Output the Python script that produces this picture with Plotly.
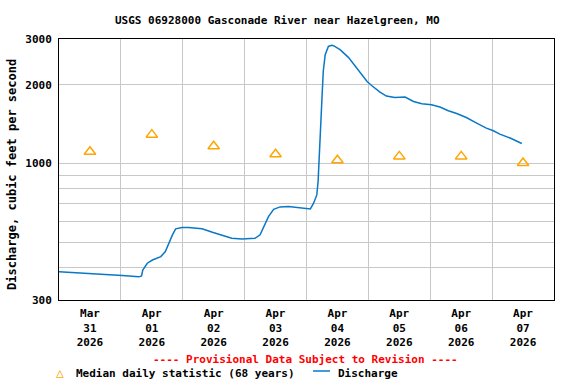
import plotly.graph_objects as go

# ---- data ----
median_dates = ["2026-03-31 12:00", "2026-04-01 12:00", "2026-04-02 12:00", "2026-04-03 12:00",
                "2026-04-04 12:00", "2026-04-05 12:00", "2026-04-06 12:00", "2026-04-07 12:00"]
median_cfs = [1110, 1290, 1165, 1085, 1030, 1065, 1065, 1005]

q_times = [
    "2026-03-31 00:00", "2026-03-31 06:30", "2026-03-31 11:30", "2026-03-31 18:00",
    "2026-04-01 00:30", "2026-04-01 07:00", "2026-04-01 08:00", "2026-04-01 08:30",
    "2026-04-01 10:15", "2026-04-01 12:15", "2026-04-01 15:30", "2026-04-01 17:15",
    "2026-04-01 18:30", "2026-04-01 20:00", "2026-04-01 21:15", "2026-04-01 23:45",
    "2026-04-02 02:15", "2026-04-02 07:30", "2026-04-02 11:30", "2026-04-02 15:15",
    "2026-04-02 19:00", "2026-04-02 23:00", "2026-04-03 04:00", "2026-04-03 06:00",
    "2026-04-03 07:30", "2026-04-03 09:15", "2026-04-03 11:15", "2026-04-03 13:45",
    "2026-04-03 17:00", "2026-04-03 21:00", "2026-04-04 01:30", "2026-04-04 02:45",
    "2026-04-04 04:00", "2026-04-04 04:30", "2026-04-04 05:00", "2026-04-04 05:30",
    "2026-04-04 06:00", "2026-04-04 06:30", "2026-04-04 07:15", "2026-04-04 08:30",
    "2026-04-04 09:45", "2026-04-04 10:30", "2026-04-04 13:00", "2026-04-04 16:15",
    "2026-04-04 19:00", "2026-04-04 21:30", "2026-04-04 23:30", "2026-04-05 01:15",
    "2026-04-05 04:30", "2026-04-05 07:00", "2026-04-05 10:15", "2026-04-05 14:15",
    "2026-04-05 17:30", "2026-04-05 20:45", "2026-04-06 00:30", "2026-04-06 03:45",
    "2026-04-06 07:00", "2026-04-06 10:15", "2026-04-06 14:00", "2026-04-06 18:00",
    "2026-04-06 21:45", "2026-04-07 00:30", "2026-04-07 03:00", "2026-04-07 07:00",
    "2026-04-07 11:30",
]
q_cfs = [
    385, 382, 378, 376,
    372, 368, 371, 391,
    415, 427, 440, 460,
    495, 533, 562, 569,
    569, 562, 545, 530,
    517, 514, 517, 533,
    573, 626, 668, 682,
    684, 678, 670, 705,
    758, 853, 1049, 1367,
    1781, 2253, 2612, 2810,
    2836, 2828, 2730, 2551,
    2355, 2188, 2063, 1991,
    1879, 1813, 1791, 1797,
    1729, 1694, 1679, 1646,
    1593, 1555, 1501, 1429,
    1367, 1335, 1296, 1252,
    1193,
]

y_tickvals = [300, 400, 500, 600, 700, 800, 900, 1000, 2000, 3000]
y_ticktext = ["300", "", "", "", "", "", "", "1000", "2000", "3000"]

title_text = "USGS 06928000 Gasconade River near Hazelgreen, MO"
ytitle_text = "Discharge, cubic feet per second"
provisional_text = "---- Provisional Data Subject to Revision ----"
legend_median = "Median daily statistic (68 years)"
legend_q = "Discharge"

# ---- layout geometry (page pixels; body margin removed via post_script) ----
W, H = 576, 384
L, R, T, B = 59, 22, 39, 84
PW, PH = W - L - R, H - T - B


def px(x):
    return (x - L) / PW


def py(y):
    return (H - B - y) / PH


FONT = "DejaVu Sans Mono"
BLUE = "#0a78c8"
ORANGE = "#ffa500"

fig = go.Figure()
fig.add_trace(go.Scatter(x=q_times, y=q_cfs, mode="lines",
                         line=dict(color=BLUE, width=1.5), name=legend_q, showlegend=False))
fig.add_trace(go.Scatter(x=median_dates, y=median_cfs, mode="markers",
                         marker=dict(symbol="triangle-up-open", size=10, color=ORANGE,
                                     line=dict(width=1.5, color=ORANGE)),
                         name=legend_median, showlegend=False))

fig.update_layout(
    width=W, height=H,
    margin=dict(l=L, r=R, t=T, b=B, pad=0),
    paper_bgcolor="white", plot_bgcolor="white",
    font=dict(family=FONT, size=11, color="black", weight="bold"),
    showlegend=False,
)
fig.update_xaxes(
    type="date",
    range=["2026-03-31 00:00", "2026-04-08 00:00"],
    tick0="2026-03-31", dtick=86400000,
    ticklabelmode="period",
    tickformat="%b<br>%d<br>%Y",
    showgrid=True, gridcolor="#c8c8c8", gridwidth=1,
    showline=True, linecolor="black", linewidth=1, mirror=True,
    ticks="", zeroline=False, ticklabelstandoff=3,
    tickfont=dict(family=FONT, size=11, color="black", weight="bold"),
)
fig.update_yaxes(
    type="log",
    range=[2.4771212547, 3.4771212547],
    tickmode="array", tickvals=y_tickvals, ticktext=y_ticktext,
    showgrid=True, gridcolor="#c8c8c8", gridwidth=1,
    showline=True, linecolor="black", linewidth=1, mirror=True,
    ticks="", zeroline=False, ticklabelstandoff=4,
    tickfont=dict(family=FONT, size=11, color="black", weight="bold"),
)

ann = []
ann.append(dict(text=title_text, x=px(277.5), y=py(20), xref="paper", yref="paper",
                showarrow=False, xanchor="center", yanchor="middle",
                font=dict(family=FONT, size=11, color="black", weight="bold")))
ann.append(dict(text=ytitle_text, x=px(12), y=py(175), xref="paper", yref="paper",
                showarrow=False, textangle=-90, xanchor="center", yanchor="middle",
                font=dict(family=FONT, size=12, color="black", weight="bold")))
ann.append(dict(text=provisional_text, x=px(305.5), y=py(359), xref="paper", yref="paper",
                showarrow=False, xanchor="center", yanchor="middle",
                font=dict(family=FONT, size=11, color="red", weight="bold")))
ann.append(dict(text=legend_median, x=px(74), y=py(373), xref="paper", yref="paper",
                showarrow=False, xanchor="left", yanchor="middle",
                font=dict(family=FONT, size=11, color="black", weight="bold")))
ann.append(dict(text=legend_q, x=px(336), y=py(373), xref="paper", yref="paper",
                showarrow=False, xanchor="left", yanchor="middle",
                font=dict(family=FONT, size=11, color="black", weight="bold")))
ann.append(dict(text="△", x=px(60), y=py(372), xref="paper", yref="paper",
                showarrow=False, xanchor="center", yanchor="middle",
                font=dict(family=FONT, size=13, color=ORANGE)))
fig.update_layout(annotations=ann)
fig.add_shape(type="line", xref="paper", yref="paper",
              x0=px(313), x1=px(330), y0=py(371), y1=py(371),
              line=dict(color=BLUE, width=1.5))

fig.write_html("out.html",
               config={"displayModeBar": False, "staticPlot": True},
               post_script="document.body.style.margin='0';document.body.style.overflow='hidden';")
